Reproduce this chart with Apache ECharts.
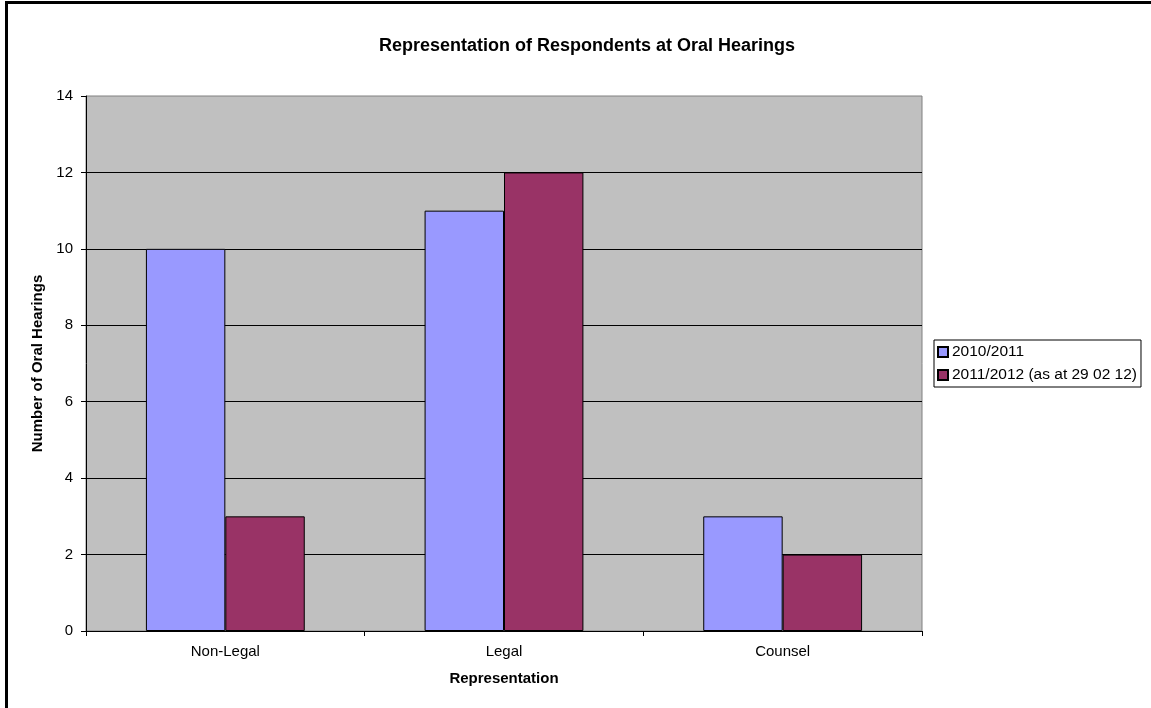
<!DOCTYPE html>
<html>
<head>
<meta charset="utf-8">
<script src="https://cdn.jsdelivr.net/npm/echarts@6/dist/echarts.min.js"></script>
<style>
  html, body { margin: 0; padding: 0; background: #fff; }
  #frame { position: absolute; left: 5px; top: 1px; width: 1160px; height: 720px;
           border-left: 3px solid #000; border-top: 3px solid #000; }
  #chart { position: absolute; left: 0; top: 0; width: 1151px; height: 708px; }
</style>
</head>
<body>
<div id="frame"></div>
<div id="chart"></div>
<script>
const categories = ['Non-Legal', 'Legal', 'Counsel']
const seriesNames = ['2010/2011', '2011/2012 (as at 29 02 12)']
const values2010 = [10, 11, 3]
const values2011 = [3, 12, 2]

const chart = echarts.init(document.getElementById('chart'))
const font = 'Liberation Sans, Arial, sans-serif'

chart.setOption({
  animation: false,
  textStyle: { fontFamily: font },
  title: {
    text: 'Representation of Respondents at Oral Hearings',
    left: 582, top: 32, textAlign: 'center',
    textStyle: { fontSize: 18, fontWeight: 'bold', color: '#000', fontFamily: font }
  },
  legend: {
    orient: 'vertical',
    left: 934, top: 340,
    data: seriesNames,
    itemWidth: 10, itemHeight: 10, itemGap: 7,
    padding: [4, 4, 4, 3],
    borderColor: '#000', borderWidth: 1,
    icon: 'rect',
    textStyle: { fontSize: 15.5, lineHeight: 16, color: '#000', fontFamily: font, padding: [0, 0, 0, -1] }
  },
  grid: { left: 86, right: 229, top: 96, bottom: 77, show: true, backgroundColor: '#C0C0C0', borderColor: '#808080', borderWidth: 1 },
  xAxis: {
    type: 'category',
    data: categories,
    name: 'Representation',
    nameLocation: 'middle',
    nameGap: 40,
    nameTextStyle: { fontSize: 15, fontWeight: 'bold', color: '#000' },
    axisLine: { lineStyle: { color: '#000', width: 1 } },
    axisTick: { show: true, length: 5, lineStyle: { color: '#000' } },
    axisLabel: { fontSize: 15, color: '#000', margin: 13 }
  },
  yAxis: {
    type: 'value',
    min: 0, max: 14, interval: 2,
    name: 'Number of Oral Hearings',
    nameLocation: 'middle',
    nameGap: 40,
    nameTextStyle: { fontSize: 15, fontWeight: 'bold', color: '#000' },
    axisLine: { show: true, lineStyle: { color: '#000', width: 1 } },
    axisTick: { show: true, length: 5, lineStyle: { color: '#000' } },
    axisLabel: { fontSize: 15, color: '#000', margin: 13 },
    splitLine: { showMaxLine: false, lineStyle: { color: '#000', width: 1 } }
  },
  series: [
    {
      name: seriesNames[0], type: 'bar', data: values2010,
      barGap: 0, barCategoryGap: '43%',
      itemStyle: { color: '#9999FF', borderColor: '#000', borderWidth: 1 }
    },
    {
      name: seriesNames[1], type: 'bar', data: values2011,
      itemStyle: { color: '#993366', borderColor: '#000', borderWidth: 1 }
    }
  ]
})
</script>
</body>
</html>
